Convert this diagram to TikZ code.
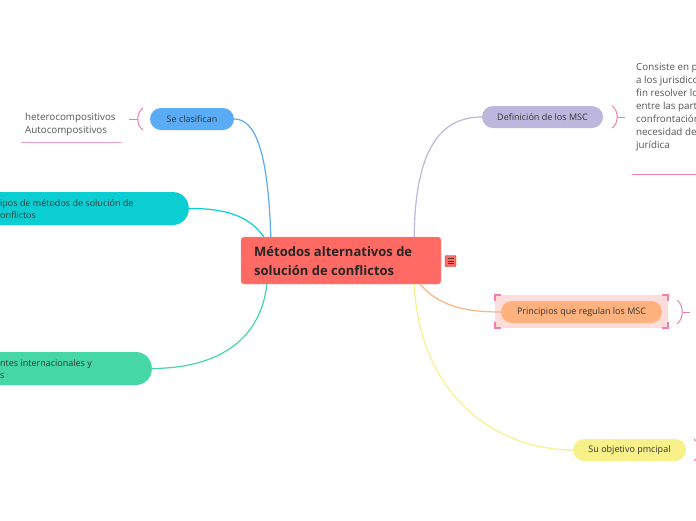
\documentclass[tikz,border=0pt]{standalone}
\usepackage{fontspec}
\setmainfont{Open Sans}
\definecolor{cmain}{HTML}{FF6A64}
\definecolor{cblue}{HTML}{5AACF6}
\definecolor{cteal}{HTML}{0BCED3}
\definecolor{cmint}{HTML}{45D7A6}
\definecolor{clav}{HTML}{BEB7DD}
\definecolor{corange}{HTML}{FFB27D}
\definecolor{cyellow}{HTML}{F8F18A}
\definecolor{cpink}{HTML}{F07FAA}
\definecolor{cpinkline}{HTML}{F3A0C6}
\definecolor{csel}{HTML}{FCDDDC}
\definecolor{ctxt}{HTML}{333333}
\definecolor{cgray}{HTML}{555555}
\tikzset{
  pill/.style={rounded corners=11pt, minimum height=22pt, inner sep=0pt, text=ctxt, font=\fontsize{9}{12}\selectfont},
  txt/.style={inner sep=0pt, align=left, text=ctxt, font=\fontsize{9}{12}\selectfont},
  freetxt/.style={inner sep=0pt, align=left, text=cgray, font=\fontsize{9.8}{13}\selectfont},
  link/.style={line width=1.2pt},
  brk/.style={draw=cpink, line width=1pt},
}
\begin{document}
\begin{tikzpicture}[x=1pt,y=-1pt]
\useasboundingbox (0,0) rectangle (696,520);
\clip (0,0) rectangle (696,520);
\fill[white] (0,0) rectangle (696,520);

% selection box around Principios
\fill[csel] (495,295) rectangle (668,328);
\draw[cpink, line width=1.3pt] (495,301) -- (495,295) -- (501,295);
\draw[cpink, line width=1.3pt] (662,295) -- (668,295) -- (668,301);
\draw[cpink, line width=1.3pt] (495,322) -- (495,328) -- (501,328);
\draw[cpink, line width=1.3pt] (662,328) -- (668,328) -- (668,322);

% nodes
\node[fill=cmain, draw=cmain!70!white, rounded corners=3pt, minimum width=200pt, minimum height=47pt, inner sep=0pt] (main) at (341,260.5) {};
\node[inner sep=0pt, anchor=west, align=left, font=\fontsize{13}{19}\selectfont\bfseries, text=black!85] (maintext) at (254,261.5) {Métodos alternativos de\\solución de conflictos};
\node[fill=cmain, draw=cmain!60!black, rounded corners=1pt, minimum width=11pt, minimum height=11pt, inner sep=0pt] (menu) at (450.5,261) {};
\draw[black!75, line width=0.8pt] (447.5,258.5) -- (453.5,258.5) (447.5,261) -- (453.5,261) (447.5,263.5) -- (453.5,263.5);

\node[pill, fill=cblue, minimum width=84pt] (clas) at (192,119) {Se clasifican};
\node[fill=cteal, rounded corners=16pt, minimum width=240pt, minimum height=33pt, inner sep=0pt, anchor=east] (tipos) at (189,208.5) {};
\node[txt, anchor=west] (tipostext) at (0,209) {ipos de métodos de solución de\\onflictos};
\node[fill=cmint, rounded corners=16pt, minimum width=240pt, minimum height=33pt, inner sep=0pt, anchor=east] (fuentes) at (152,368.5) {};
\node[txt, anchor=west] (fuentestext) at (0,369) {ntes internacionales y\\s};

\node[pill, fill=clav, minimum width=121pt] (def) at (542.5,117) {Definición de los MSC};
\node[pill, fill=corange, minimum width=161pt] (prin) at (581.5,312) {Principios que regulan los MSC};
\node[pill, fill=cyellow, minimum width=113pt] (obj) at (629.5,450) {Su objetivo pmcipal};

% connectors
\draw[link, cblue] ([xshift=30pt]main.north west) .. controls (268,150) and (255,119) .. (clas.east);
\draw[link, cteal] (tipos.east) .. controls (240,208) and (255,225) .. ([xshift=23pt]main.north west);
\draw[link, cmint] (fuentes.east) .. controls (230,368) and (262,330) .. ([xshift=26pt]main.south west);
\draw[link, clav] ([xshift=-27pt]main.north east) .. controls (415,150) and (440,117) .. (def.west);
\draw[link, corange] ([xshift=-21pt]main.south east) .. controls (440,308) and (470,312) .. (prin.west);
\draw[link, cyellow] ([xshift=-27pt]main.south east) .. controls (420,400) and (500,450) .. (obj.west);

% brackets and texts
\coordinate (b1) at (129,119);
\draw[brk] (143,108) .. controls (136,113) and (136,125) .. (143,130);
\draw[brk] (b1) -- (137.5,119);
\node[freetxt, anchor=north west] (hetero) at (25,113) {heterocompositivos\\Autocompositivos};
\draw[cpinkline, line width=1pt] (21,142) -- (122,142);

\coordinate (b2) at (625,117);
\draw[brk] (612,106) .. controls (619,111) and (619,123) .. (612,128);
\draw[brk] (617.5,117) -- (b2);
\node[freetxt, anchor=north west] (consiste) at (636,63) {Consiste en p\\a los jurisdicc\\fin resolver lo\\entre las part\\confrontación\\necesidad de\\jurídica};
\draw[cpink, line width=1pt] (632,174) -- (696,174);

\coordinate (b3) at (690,312);
\draw[brk] (677,300) .. controls (684,305) and (684,319) .. (677,324);
\draw[brk] (682.5,312) -- (b3);

\draw[brk] (694,439) .. controls (701,444) and (701,456) .. (694,461);
\end{tikzpicture}
\end{document}
